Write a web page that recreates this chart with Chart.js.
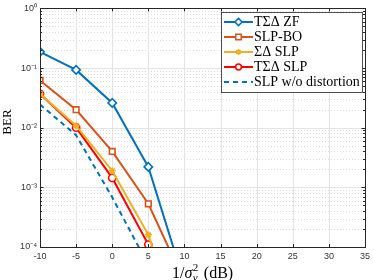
<!DOCTYPE html>
<html><head><meta charset="utf-8">
<script src="https://cdn.jsdelivr.net/npm/chart.js@4"></script>
<style>html,body{margin:0;padding:0;background:#fff}#wrap{width:374px;height:280px}</style>
</head><body><div id="wrap"><canvas id="c" width="374" height="280"></canvas></div>
<script>
const snr = [-10, -5, 0, 5, 10];
const tsdZF = [0.187, 0.093, 0.026, 0.0022, 0.000025];
const slpBO = [0.062, 0.020, 0.0040, 0.00053, 0.000026];
const sdSLP = [0.037, 0.0108, 0.0019, 0.00016, 0.0000022];
const tsdSLP = [0.037, 0.0100, 0.00144, 0.00011, 0.000001];
const slpNoDist = [0.0245, 0.0075, 0.00068, 0.00005, 0.0000001];
const xTicks = [-10, -5, 0, 5, 10, 15, 20, 25, 30, 35];
const yTickLabels = {'1':'10\u2070','0.1':'10\u207B\u00B9','0.01':'10\u207B\u00B2','0.001':'10\u207B\u00B3','0.0001':'10\u207B\u2074'};
const names = ['T\u03A3\u0394 ZF', 'SLP-BO', '\u03A3\u0394 SLP', 'T\u03A3\u0394 SLP', 'SLP w/o distortion'];
const colors = ['#0072BD', '#D95319', '#EDB120', '#FF0000', '#0072BD'];

function pts(arr){ return snr.map((x,i)=>({x:x,y:arr[i]})); }

const dsCommon = {borderWidth:2, pointBorderWidth:1.6, pointBackgroundColor:'#fff', tension:0};
const datasets = [
  Object.assign({label:names[0], data:pts(tsdZF), borderColor:colors[0], pointBorderColor:colors[0], pointStyle:'rectRot', pointRadius:4.2}, dsCommon),
  Object.assign({label:names[1], data:pts(slpBO), borderColor:colors[1], pointBorderColor:colors[1], pointStyle:'rect', pointRadius:4}, dsCommon),
  Object.assign({label:names[2], data:pts(sdSLP), borderColor:colors[2], pointBorderColor:colors[2], pointStyle:'star', pointRadius:3.5}, dsCommon),
  Object.assign({label:names[3], data:pts(tsdSLP), borderColor:colors[3], pointBorderColor:colors[3], pointStyle:'circle', pointRadius:3.6}, dsCommon),
  Object.assign({label:names[4], data:pts(slpNoDist), borderColor:colors[4], borderDash:[5,4], pointRadius:0}, dsCommon)
];

function drawMarker(ctx, style, x, y, r, color){
  ctx.save();
  ctx.strokeStyle = color; ctx.fillStyle = '#fff'; ctx.lineWidth = 1.5; ctx.setLineDash([]);
  ctx.beginPath();
  if(style==='rectRot'){ ctx.moveTo(x,y-r); ctx.lineTo(x+r,y); ctx.lineTo(x,y+r); ctx.lineTo(x-r,y); ctx.closePath(); ctx.fill(); ctx.stroke(); }
  else if(style==='rect'){ const s=r*0.75; ctx.rect(x-s,y-s,2*s,2*s); ctx.fill(); ctx.stroke(); }
  else if(style==='circle'){ ctx.arc(x,y,r*0.8,0,Math.PI*2); ctx.fill(); ctx.stroke(); }
  else if(style==='star'){ const s=r*0.8; ctx.moveTo(x-s,y);ctx.lineTo(x+s,y);ctx.moveTo(x,y-s);ctx.lineTo(x,y+s);ctx.moveTo(x-s*0.7,y-s*0.7);ctx.lineTo(x+s*0.7,y+s*0.7);ctx.moveTo(x-s*0.7,y+s*0.7);ctx.lineTo(x+s*0.7,y-s*0.7);ctx.stroke(); }
  ctx.restore();
}

const framePlugin = {
  id:'frame',
  beforeDatasetsDraw(chart){
    const {ctx, chartArea:a, scales:{x,y}} = chart;
    ctx.save();
    ctx.lineWidth = 1;
    ctx.strokeStyle = '#dcdcdc'; ctx.setLineDash([1,2]);
    for(let e=-4;e<0;e++){ for(let m=2;m<=9;m++){ const py=Math.round(y.getPixelForValue(m*Math.pow(10,e)))+0.5; ctx.beginPath(); ctx.moveTo(a.left,py); ctx.lineTo(a.right,py); ctx.stroke(); } }
    ctx.setLineDash([]); ctx.strokeStyle = '#e3e3e3';
    for(let e=-3;e<0;e++){ const py=Math.round(y.getPixelForValue(Math.pow(10,e)))+0.5; ctx.beginPath(); ctx.moveTo(a.left,py); ctx.lineTo(a.right,py); ctx.stroke(); }
    xTicks.forEach(v=>{ if(v===-10||v===35) return; const px=Math.round(x.getPixelForValue(v))+0.5; ctx.beginPath(); ctx.moveTo(px,a.top); ctx.lineTo(px,a.bottom); ctx.stroke(); });
    ctx.restore();
  },
  afterDatasetsDraw(chart){
    const {ctx, chartArea:a, scales:{x,y}} = chart;
    ctx.save();
    ctx.strokeStyle = '#262626'; ctx.lineWidth = 1; ctx.setLineDash([]);
    ctx.strokeRect(Math.round(a.left)+0.5, Math.round(a.top)+0.5, Math.round(a.right-a.left), Math.round(a.bottom-a.top));
    xTicks.forEach(v=>{ const px=Math.round(x.getPixelForValue(v))+0.5; ctx.beginPath(); ctx.moveTo(px,a.bottom); ctx.lineTo(px,a.bottom-3); ctx.moveTo(px,a.top); ctx.lineTo(px,a.top+3); ctx.stroke(); });
    for(let e=-4;e<=0;e++){ for(let m=1;m<=9;m++){ if(e===0&&m>1) break; const py=Math.round(y.getPixelForValue(m*Math.pow(10,e)))+0.5; const L=m===1?3.5:2; ctx.beginPath(); ctx.moveTo(a.left,py); ctx.lineTo(a.left+L,py); ctx.moveTo(a.right,py); ctx.lineTo(a.right-L,py); ctx.stroke(); } }
    // legend
    const bx=221.5, by=12.5, bw=141, bh=80;
    ctx.fillStyle='#fff'; ctx.fillRect(bx,by,bw,bh);
    ctx.strokeStyle='#262626'; ctx.lineWidth=0.8; ctx.strokeRect(bx,by,bw,bh);
    const ys=[22,37,52,67,82];
    ctx.font = '14px "Liberation Serif", "DejaVu Serif", serif'; ctx.textBaseline='middle'; ctx.textAlign='left';
    chart.data.datasets.forEach((d,i)=>{
      const yy=ys[i];
      ctx.save(); ctx.strokeStyle=d.borderColor; ctx.lineWidth=2; ctx.setLineDash(d.borderDash||[]);
      ctx.beginPath(); ctx.moveTo(224,yy); ctx.lineTo(253,yy); ctx.stroke(); ctx.restore();
      if(d.pointRadius>0) drawMarker(ctx, d.pointStyle, 238.5, yy, 3.6, d.borderColor);
      ctx.fillStyle='#000'; ctx.fillText(d.label, 254, yy+0.5);
    });
    // axis titles
    ctx.fillStyle='#000';
    ctx.save(); ctx.translate(8,122); ctx.rotate(-Math.PI/2); ctx.textAlign='center'; ctx.textBaseline='middle';
    ctx.font='13px "Liberation Serif", serif'; ctx.fillText('BER',0,0); ctx.restore();
    ctx.textBaseline='alphabetic'; ctx.textAlign='left';
    const big='16px "Liberation Serif", serif', small='11px "Liberation Serif", serif';
    let tx=172, ty=278;
    ctx.font=big; ctx.fillText('1/',tx,ty); tx+=ctx.measureText('1/').width;
    ctx.font='italic 16px "Liberation Serif", serif'; ctx.fillText('\u03C3',tx,ty); tx+=ctx.measureText('\u03C3').width+0.5;
    ctx.font=small; ctx.fillText('2',tx,ty-7);
    ctx.font='italic 11px "Liberation Serif", serif'; ctx.fillText('v',tx,ty+3); tx+=7;
    ctx.font=big; ctx.fillText(' (dB)',tx,ty);
    ctx.restore();
  }
};

new Chart(document.getElementById('c'), {
  type:'line',
  data:{datasets:datasets},
  options:{
    responsive:false, animation:false, devicePixelRatio:1,
    layout:{padding:{left:0,right:4,top:6,bottom:0}},
    plugins:{legend:{display:false}, tooltip:{enabled:false}},
    scales:{
      x:{type:'linear', min:-10, max:35,
        afterBuildTicks(s){ s.ticks = xTicks.map(v=>({value:v})); },
        ticks:{color:'#333', font:{family:'"Liberation Sans", Arial, sans-serif', size:9}, padding:4, maxRotation:0, autoSkip:false},
        grid:{display:false, drawTicks:false}, border:{display:false},
        afterFit(s){ s.height = 33; }
      },
      y:{type:'logarithmic', min:1e-4, max:1,
        afterBuildTicks(s){ s.ticks = [1e-4,1e-3,1e-2,1e-1,1].map(v=>({value:v})); },
        ticks:{color:'#333', font:{family:'"Liberation Sans", Arial, sans-serif', size:9}, padding:3, autoSkip:false,
          callback(v){ return yTickLabels[String(v)] || ''; }},
        grid:{display:false, drawTicks:false}, border:{display:false},
        afterFit(s){ s.width = 40; }
      }
    }
  },
  plugins:[framePlugin]
});
</script></body></html>
